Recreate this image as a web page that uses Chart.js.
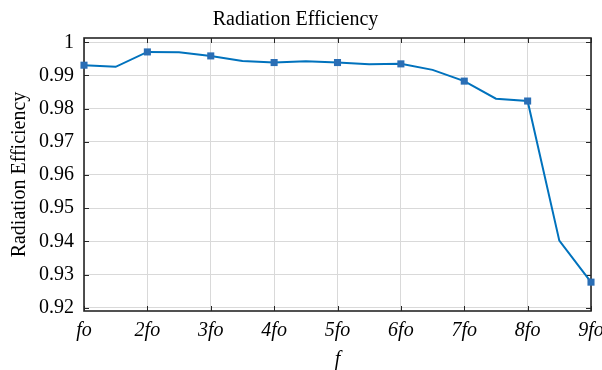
<!DOCTYPE html>
<html><head><meta charset="utf-8">
<script src="https://cdn.jsdelivr.net/npm/chart.js@4/dist/chart.umd.min.js"></script>
<style>html,body{margin:0;padding:0;background:#fff}#wrap{width:602px;height:370px}</style>
</head><body><div id="wrap"><canvas id="c" width="602" height="370"></canvas></div>
<script>
// ---- data ----
const harmonics = [1, 1.5, 2, 2.5, 3, 3.5, 4, 4.5, 5, 5.5, 6, 6.5, 7, 7.5, 8, 8.5, 9];
const efficiency = [0.9931, 0.9926, 0.9971, 0.9970, 0.9959, 0.9944, 0.9939, 0.9943, 0.9939, 0.9934, 0.9935, 0.9917, 0.9883, 0.9830, 0.9823, 0.9402, 0.9277];
const xTickValues = [1, 2, 3, 4, 5, 6, 7, 8, 9];
const xTickLabels = ['fo', '2fo', '3fo', '4fo', '5fo', '6fo', '7fo', '8fo', '9fo'];
const yTickValues = [0.92, 0.93, 0.94, 0.95, 0.96, 0.97, 0.98, 0.99, 1];
const yTickLabels = ['0.92', '0.93', '0.94', '0.95', '0.96', '0.97', '0.98', '0.99', '1'];

const FONT = "'Liberation Serif', 'DejaVu Serif', serif";
const LINE = '#0072BD';

const boxPlugin = {
  id: 'box',
  beforeDatasetsDraw(chart) {
    const {ctx, chartArea: a, scales} = chart;
    ctx.save();
    ctx.strokeStyle = '#262626';
    ctx.lineWidth = 1;
    ctx.beginPath();
    const tl = 5;
    scales.x.ticks.forEach(t => {
      const px = Math.round(scales.x.getPixelForValue(t.value)) + 0.5;
      ctx.moveTo(px, a.bottom); ctx.lineTo(px, a.bottom - tl);
      ctx.moveTo(px, a.top); ctx.lineTo(px, a.top + tl);
    });
    scales.y.ticks.forEach(t => {
      const py = Math.round(scales.y.getPixelForValue(t.value)) + 0.5;
      ctx.moveTo(a.left, py); ctx.lineTo(a.left + tl, py);
      ctx.moveTo(a.right, py); ctx.lineTo(a.right - tl, py);
    });
    ctx.stroke();
    ctx.lineWidth = 1.6;
    ctx.strokeRect(a.left, a.top, a.right - a.left, a.bottom - a.top);
    ctx.restore();
  }
};

new Chart(document.getElementById('c'), {
  type: 'line',
  data: {
    datasets: [{
      data: harmonics.map((h, i) => ({x: h, y: efficiency[i]})),
      borderColor: LINE,
      backgroundColor: '#2A6EB5',
      borderWidth: 2,
      pointStyle: 'rect',
      pointRadius: c => (c.raw && Number.isInteger(c.raw.x)) ? 5 : 0,
      pointBorderWidth: 0,
      pointBackgroundColor: '#2A6EB5',
      tension: 0,
      clip: false
    }]
  },
  options: {
    responsive: false,
    devicePixelRatio: 1,
    animation: false,
    layout: {padding: {left: 0, right: 11, top: 0, bottom: 0}},
    plugins: {
      legend: {display: false},
      tooltip: {enabled: false},
      title: {
        display: true,
        text: 'Radiation Efficiency',
        color: '#000',
        font: {family: FONT, size: 20, weight: 'normal'},
        padding: {top: 8, bottom: 6}
      }
    },
    scales: {
      x: {
        type: 'linear',
        min: 1, max: 9,
        afterBuildTicks: s => { s.ticks = xTickValues.map(v => ({value: v})); },
        afterFit: s => { s.height = 59; s.paddingLeft = 0; s.paddingRight = 0; },
        grid: {color: '#d9d9d9', lineWidth: 1, drawTicks: false},
        border: {display: false},
        ticks: {
          color: '#000',
          padding: 8,
          maxRotation: 0,
          autoSkip: false,
          font: {family: FONT, size: 20, style: 'italic'},
          callback: (v) => xTickLabels[xTickValues.indexOf(v)]
        },
        title: {
          display: true, text: 'f', color: '#000',
          font: {family: FONT, size: 20, style: 'italic'},
          padding: {top: 0, bottom: -2}
        }
      },
      y: {
        type: 'linear',
        min: 0.919, max: 1.0013,
        afterBuildTicks: s => { s.ticks = yTickValues.map(v => ({value: v})); },
        afterFit: s => { s.width = 84; },
        grid: {color: '#d9d9d9', lineWidth: 1, drawTicks: false},
        border: {display: false},
        ticks: {
          color: '#000',
          padding: 10,
          autoSkip: false,
          font: {family: FONT, size: 20},
          callback: (v) => yTickLabels[yTickValues.indexOf(v)]
        },
        title: {
          display: true, text: 'Radiation Efficiency', color: '#000',
          font: {family: FONT, size: 20},
          padding: {top: 8, bottom: 0}
        }
      }
    }
  },
  plugins: [boxPlugin]
});
</script></body></html>
